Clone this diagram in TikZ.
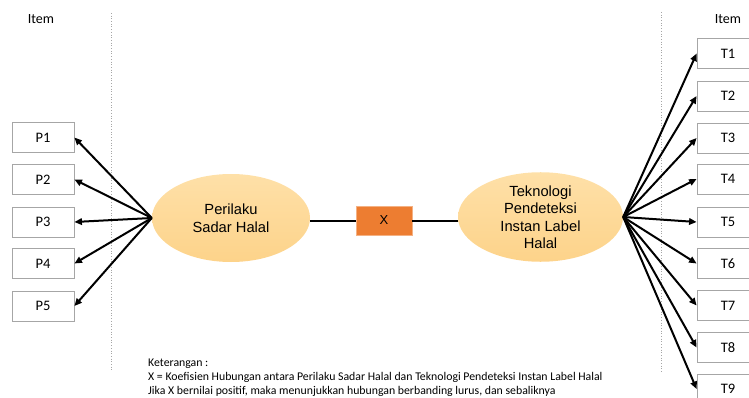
\documentclass[tikz,border=0pt]{standalone}
\usepackage{fontspec}
\setmainfont{Carlito}
\newfontfamily\arialf{Liberation Sans}
\usetikzlibrary{arrows.meta,shapes.geometric}
\definecolor{ellfill}{HTML}{FDD38A}
\definecolor{ellfilltop}{HTML}{FEE0A8}
\definecolor{xfill}{HTML}{ED7D31}
\definecolor{boxline}{HTML}{A6A6A6}
\tikzset{
  itembox/.style={draw=boxline, line width=0.8pt, minimum width=62pt, minimum height=30pt, inner sep=0pt, font=\fontsize{14.5}{14.5}\selectfont},
  latent/.style={ellipse, top color=ellfilltop, bottom color=ellfill, draw=none, inner sep=0pt, align=center, font=\arialf\fontsize{14.7}{17.5}\selectfont},
  arr/.style={-{Triangle[length=7.5pt,width=6.5pt]}, line width=2pt},
  conn/.style={line width=2pt},
  sep/.style={draw=gray!70, line width=0.7pt, dotted},
  lbl/.style={font=\fontsize{14}{14}\selectfont, inner sep=0pt},
}
\begin{document}
\begin{tikzpicture}[x=1pt,y=-1pt]
\useasboundingbox (0,0) rectangle (749,398);
% separators
\draw[sep] (111,13) -- (111,372);
\draw[sep] (661,12) -- (661,373);
% item headers
\node[lbl] (itemL) at (41,19) {Item};
\node[lbl] (itemR) at (728,19) {Item};
% left boxes
\node[itembox] (P1) at (43,137.5) {P1};
\node[itembox] (P2) at (43,179.5) {P2};
\node[itembox] (P3) at (43,222) {P3};
\node[itembox] (P4) at (43,263.5) {P4};
\node[itembox] (P5) at (43,306) {P5};
% right boxes
\node[itembox] (T1) at (728,53.5) {T1};
\node[itembox] (T2) at (728,96) {T2};
\node[itembox] (T3) at (728,138) {T3};
\node[itembox] (T4) at (728,179) {T4};
\node[itembox] (T5) at (728,222) {T5};
\node[itembox] (T6) at (728,263.5) {T6};
\node[itembox] (T7) at (728,305.5) {T7};
\node[itembox] (T8) at (728,347.5) {T8};
\node[itembox] (T9) at (728,389) {T9};
% latents
\node[latent, minimum width=158pt, minimum height=88pt] (PSH) at (231,218) {Perilaku\\Sadar Halal};
\node[latent, minimum width=165pt, minimum height=88pt] (TPI) at (540.5,217) {Teknologi\\Pendeteksi\\Instan Label\\Halal};
% X box
\node[fill=xfill, draw=xfill!60!white, line width=0.6pt, minimum width=56pt, minimum height=29pt, inner sep=0pt, font=\arialf\fontsize{13}{13}\selectfont] (X) at (384,220.5) {X};
\draw[conn] (PSH.east |- X.west) -- (X.west);
\draw[conn] (X.east) -- (TPI.west |- X.east);
% hubs
\coordinate (hL) at (PSH.west);
\coordinate (hR) at (TPI.east);
\foreach \p in {P1,P2,P3,P4,P5} \draw[arr] (hL) -- (\p.east);
\foreach \t in {T1,T2,T3,T4,T5,T6,T7,T8,T9} \draw[arr] (hR) -- (\t.west);
% legend
\node[anchor=north west, align=left, inner sep=0pt, font=\fontsize{11.8}{14.2}\selectfont] (leg) at (148,358.5) {Keterangan :\\X = Koefisien Hubungan antara Perilaku Sadar Halal dan Teknologi Pendeteksi Instan Label Halal\\Jika X bernilai positif, maka menunjukkan hubungan berbanding lurus, dan sebaliknya};
\end{tikzpicture}
\end{document}
